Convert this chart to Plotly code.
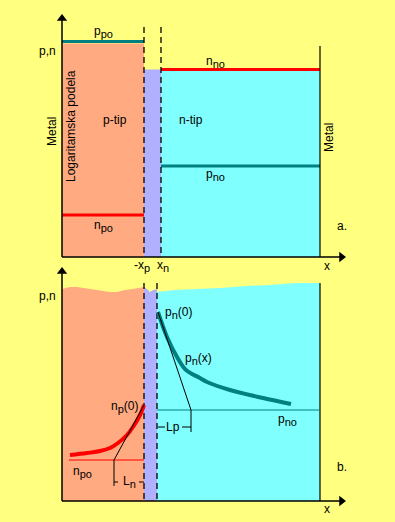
import plotly.graph_objects as go

W, H = 395, 522

# ---------------- horizontal structure ----------------
x_origin = 62          # y-axis (contact with left metal)
x_junction = 144       # -x_p
x_n_a = 161            # x_n (panel a)
x_n_b = 157            # x_n (panel b)
x_metal = 320          # right metal contact
x_arrow = 345          # x-axis arrow tip

# ---------------- panel a : equilibrium (log scale) ----------------
a_tip, a_base = 15, 257
a_dash_top = 27
a_metal_top = 46
ppo_a = 41.5
p_region_top_a = 43.5
nno_a = 69.5
pno_a = 166
npo_a = 215

# ---------------- panel b : injected carriers ----------------
b_tip, b_base = 268, 501
b_dash_top = 283
b_metal_top = 283
wave_p_x = [62, 70, 77, 90, 100, 110, 117, 125, 133, 144]
wave_p_y = [289, 287, 287, 289, 291, 292, 292, 290, 289, 287]
wave_d_x = [144, 147, 150, 153, 157]
wave_d_y = [287, 289, 292, 290, 289]
wave_n_x = [157, 175, 197, 220, 247, 270, 297, 320]
wave_n_y = [292, 290, 289, 288, 286, 285, 283, 283]

pn_x = [158, 167, 177, 186, 200, 207, 230, 263, 291]
pn_y = [312, 337, 357, 370, 378, 382, 390, 398, 404]
np_x = [70, 87, 100, 110, 118, 127, 133, 140, 144]
np_y = [455, 453, 451, 448, 443, 435, 427, 415, 405]

pno_b = 410
npo_b = 460
npo_b_start = 69
Lp_end = 191
Ln_end = 114
Lp_tick_y, Ln_tick_y = 427, 482
Lp_low, Ln_low = 432, 486

# ---------------- colours ----------------
YELLOW = "#FFFF80"
ORANGE = "#FFAA80"
CYAN = "#80FFFF"
PURPLE = "#B0B0FF"
TEAL = "#008080"
RED = "#FF0000"
BLACK = "#000000"

fig = go.Figure()


def poly(xs, ys, color):
    fig.add_trace(go.Scatter(x=xs, y=ys, mode="lines", fill="toself",
                             fillcolor=color, line=dict(width=0, color=color),
                             hoverinfo="skip", showlegend=False))


def line(xs, ys, color=BLACK, width=1, dash=None, shape="linear"):
    fig.add_trace(go.Scatter(x=xs, y=ys, mode="lines",
                             line=dict(color=color, width=width, dash=dash, shape=shape),
                             hoverinfo="skip", showlegend=False))


# ---- panel a regions ----
poly([x_origin, x_junction, x_junction, x_origin],
     [p_region_top_a, p_region_top_a, a_base, a_base], ORANGE)
poly([x_junction, x_n_a, x_n_a, x_junction],
     [nno_a, nno_a, a_base, a_base], PURPLE)
poly([x_n_a, x_metal, x_metal, x_n_a],
     [nno_a, nno_a, a_base, a_base], CYAN)

# ---- panel b regions (wavy top) ----
poly(wave_p_x + [x_junction, x_origin], wave_p_y + [b_base, b_base], ORANGE)
poly(wave_d_x + [x_n_b, x_junction], wave_d_y + [b_base, b_base], PURPLE)
poly(wave_n_x + [x_metal, x_n_b], wave_n_y + [b_base, b_base], CYAN)

# ---- panel a levels ----
line([x_origin, x_junction], [ppo_a, ppo_a], TEAL, 3)
line([x_n_a, x_metal], [nno_a, nno_a], RED, 3)
line([x_n_a, x_metal], [pno_a, pno_a], TEAL, 3)
line([x_origin, x_junction], [npo_a, npo_a], RED, 3)

# ---- dashed depletion edges ----
DASH = "6px,4px"
line([x_junction, x_junction], [a_dash_top, a_base], BLACK, 1.3, DASH)
line([x_n_a, x_n_a], [a_dash_top, a_base], BLACK, 1.3, DASH)
line([x_junction, x_junction], [b_dash_top, b_base], BLACK, 1.3, DASH)
line([x_n_b, x_n_b], [b_dash_top, b_base], BLACK, 1.3, DASH)

# ---- metal contacts ----
line([x_metal, x_metal], [a_metal_top, a_base], BLACK, 1.2)
line([x_metal, x_metal], [b_metal_top, b_base], BLACK, 1.2)

# ---- panel b curves ----
line([x_n_b, x_metal], [pno_b, pno_b], TEAL, 1)
line([npo_b_start, x_junction], [npo_b, npo_b], RED, 1)
line(pn_x, pn_y, TEAL, 4, shape="spline")
line(np_x, np_y, RED, 4, shape="spline")
# tangents (diffusion lengths)
line([pn_x[0], Lp_end], [pn_y[0], pno_b], BLACK, 1)
line([np_x[-1], Ln_end], [np_y[-1], npo_b], BLACK, 1)
line([Lp_end, Lp_end], [pno_b, Lp_low], BLACK, 1)
line([Ln_end, Ln_end], [npo_b, Ln_low], BLACK, 1)
line([x_n_b + 1, 165], [Lp_tick_y, Lp_tick_y], BLACK, 1)
line([182, Lp_end], [Lp_tick_y, Lp_tick_y], BLACK, 1)
line([Ln_end, 118], [Ln_tick_y, Ln_tick_y], BLACK, 1)
line([139, x_junction], [Ln_tick_y, Ln_tick_y], BLACK, 1)

# ---- axes ----
line([x_origin, x_origin], [a_tip + 4, a_base], BLACK, 1.5)
line([x_origin, x_arrow - 4], [a_base, a_base], BLACK, 1.5)
line([x_origin, x_origin], [b_tip + 4, b_base], BLACK, 1.5)
line([x_origin, x_arrow - 4], [b_base, b_base], BLACK, 1.5)
fig.add_trace(go.Scatter(x=[x_origin, x_origin], y=[a_tip + 3.5, b_tip + 3.5], mode="markers",
                         marker=dict(symbol="triangle-up", size=9, color=BLACK),
                         hoverinfo="skip", showlegend=False))
fig.add_trace(go.Scatter(x=[x_arrow - 3.5, x_arrow - 3.5], y=[a_base, b_base], mode="markers",
                         marker=dict(symbol="triangle-right", size=9, color=BLACK),
                         hoverinfo="skip", showlegend=False))

# ---- text ----
FONT = dict(family="Liberation Sans, Arial, sans-serif", size=12, color=BLACK)


def sub(s):
    return "<sub><span style='font-size:11px'>%s</span></sub>" % s


def label(x, y, text, angle=0, xanchor="center"):
    fig.add_annotation(x=x, y=y, xref="x", yref="y", text=text, showarrow=False,
                       textangle=angle, xanchor=xanchor, yanchor="middle", font=FONT)


label(103, 32, "p" + sub("po"))
label(58, 51, "p,n", xanchor="right")
label(215, 62, "n" + sub("no"))
label(115, 120, "p-tip")
label(191, 120, "n-tip")
label(215, 175, "p" + sub("no"))
label(103, 226, "n" + sub("po"))
label(342, 226, "a.")
label(327, 266, "x")
label(142, 266, "-x" + sub("p"))
label(163, 266, "x" + sub("n"))
label(52, 132, "Metal", angle=-90)
label(71, 126, "Logaritamska podela", angle=-90)
label(329, 138, "Metal", angle=-90)

label(58, 296, "p,n", xanchor="right")
label(178, 313, "p" + sub("n") + "(0)")
label(198, 359, "p" + sub("n") + "(x)")
label(287, 420, "p" + sub("no"))
label(124, 407, "n" + sub("p") + "(0)")
label(82, 472, "n" + sub("po"))
label(173, 427, "Lp")
label(129, 482, "L" + sub("n"))
label(342, 467, "b.")
label(327, 509, "x")

fig.update_layout(
    width=W, height=H,
    margin=dict(l=0, r=0, t=0, b=0),
    paper_bgcolor=YELLOW, plot_bgcolor=YELLOW,
    xaxis=dict(range=[0, W], visible=False, fixedrange=True),
    yaxis=dict(range=[H, 0], visible=False, fixedrange=True),
    showlegend=False,
)

fig.write_html("out.html", config={"displayModeBar": False},
               post_script="document.body.style.margin='0';document.body.style.background='#FFFF80';")
